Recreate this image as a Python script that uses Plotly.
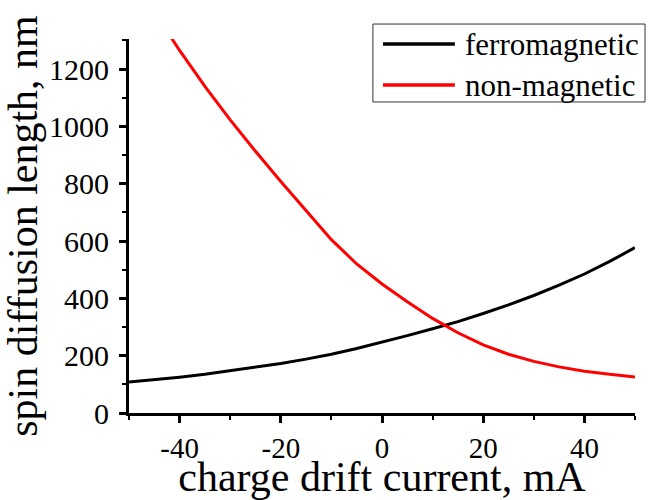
import plotly.graph_objects as go

# Charge drift current, mA
current = [-50, -45, -40, -35, -30, -25, -20, -15, -10, -5,
           0, 5, 10, 15, 20, 25, 30, 35, 40, 45, 50]

# Spin diffusion length, nm
ferromagnetic = [108, 116, 125, 135, 147, 159, 173, 188, 205, 225,
                 247, 270, 294, 319, 347, 377, 410, 446, 485, 529, 577]
non_magnetic = [1545, 1400, 1265, 1140, 1023, 913, 808, 705, 605, 520,
                450, 388, 330, 280, 238, 205, 180, 161, 146, 135, 126]

x_tickvals = [-40, -20, 0, 20, 40]
x_ticktext = ["-40", "-20", "0", "20", "40"]
y_tickvals = [0, 200, 400, 600, 800, 1000, 1200]
y_ticktext = ["0", "200", "400", "600", "800", "1000", "1200"]

legend_names = ["ferromagnetic", "non-magnetic"]
legend_colors = ["#000000", "#ff0000"]

FONT = "Liberation Serif"

fig = go.Figure()
fig.add_trace(go.Scatter(x=current, y=ferromagnetic, mode="lines",
                         name=legend_names[0],
                         line=dict(color=legend_colors[0], width=3)))
fig.add_trace(go.Scatter(x=current, y=non_magnetic, mode="lines",
                         name=legend_names[1],
                         line=dict(color=legend_colors[1], width=3)))

axis_common = dict(
    showgrid=False, zeroline=False, showline=True, linecolor="black",
    linewidth=3, ticks="outside", ticklen=7, tickwidth=2.5, tickcolor="black",
)

fig.update_xaxes(
    range=[-50, 50], tickmode="array", tickvals=x_tickvals, ticktext=x_ticktext,
    tickfont=dict(family=FONT, size=29, color="black"),
    minor=dict(ticks="outside", ticklen=4, tickwidth=2, tickcolor="black", dtick=10,
               tick0=0, showgrid=False),
    title=dict(text="charge drift current, mA",
               font=dict(family=FONT, size=42, color="black"), standoff=12),
    **axis_common,
)
fig.update_yaxes(
    range=[0, 1305], tickmode="array", tickvals=y_tickvals, ticktext=y_ticktext,
    tickfont=dict(family=FONT, size=30, color="black"),
    minor=dict(ticks="outside", ticklen=4, tickwidth=2, tickcolor="black", dtick=100,
               tick0=0, showgrid=False),
    title=dict(text="spin diffusion length, nm",
               font=dict(family=FONT, size=42, color="black"), standoff=2),
    ticklabelstandoff=4,
    **axis_common,
)

# Boxed legend drawn in paper coordinates
fig.add_shape(type="rect", xref="paper", yref="paper",
              x0=0.482, x1=1.0198, y0=0.8316, y1=1.040,
              line=dict(color="#333333", width=1), fillcolor="white", layer="above")
legend_y = [0.9866, 0.877]
for name, color, ly in zip(legend_names, legend_colors, legend_y):
    fig.add_shape(type="line", xref="paper", yref="paper",
                  x0=0.502, x1=0.644, y0=ly, y1=ly,
                  line=dict(color=color, width=3.5), layer="above")
    fig.add_annotation(xref="paper", yref="paper", x=0.660, y=ly, text=name,
                       showarrow=False, xanchor="left", yanchor="middle",
                       font=dict(family=FONT, size=31, color="black"))

fig.update_layout(
    width=649, height=500,
    margin=dict(l=129, r=14, t=39, b=87, autoexpand=False),
    paper_bgcolor="white", plot_bgcolor="white",
    font=dict(family=FONT, color="black"),
    showlegend=False,
)

fig.write_html("out.html")
